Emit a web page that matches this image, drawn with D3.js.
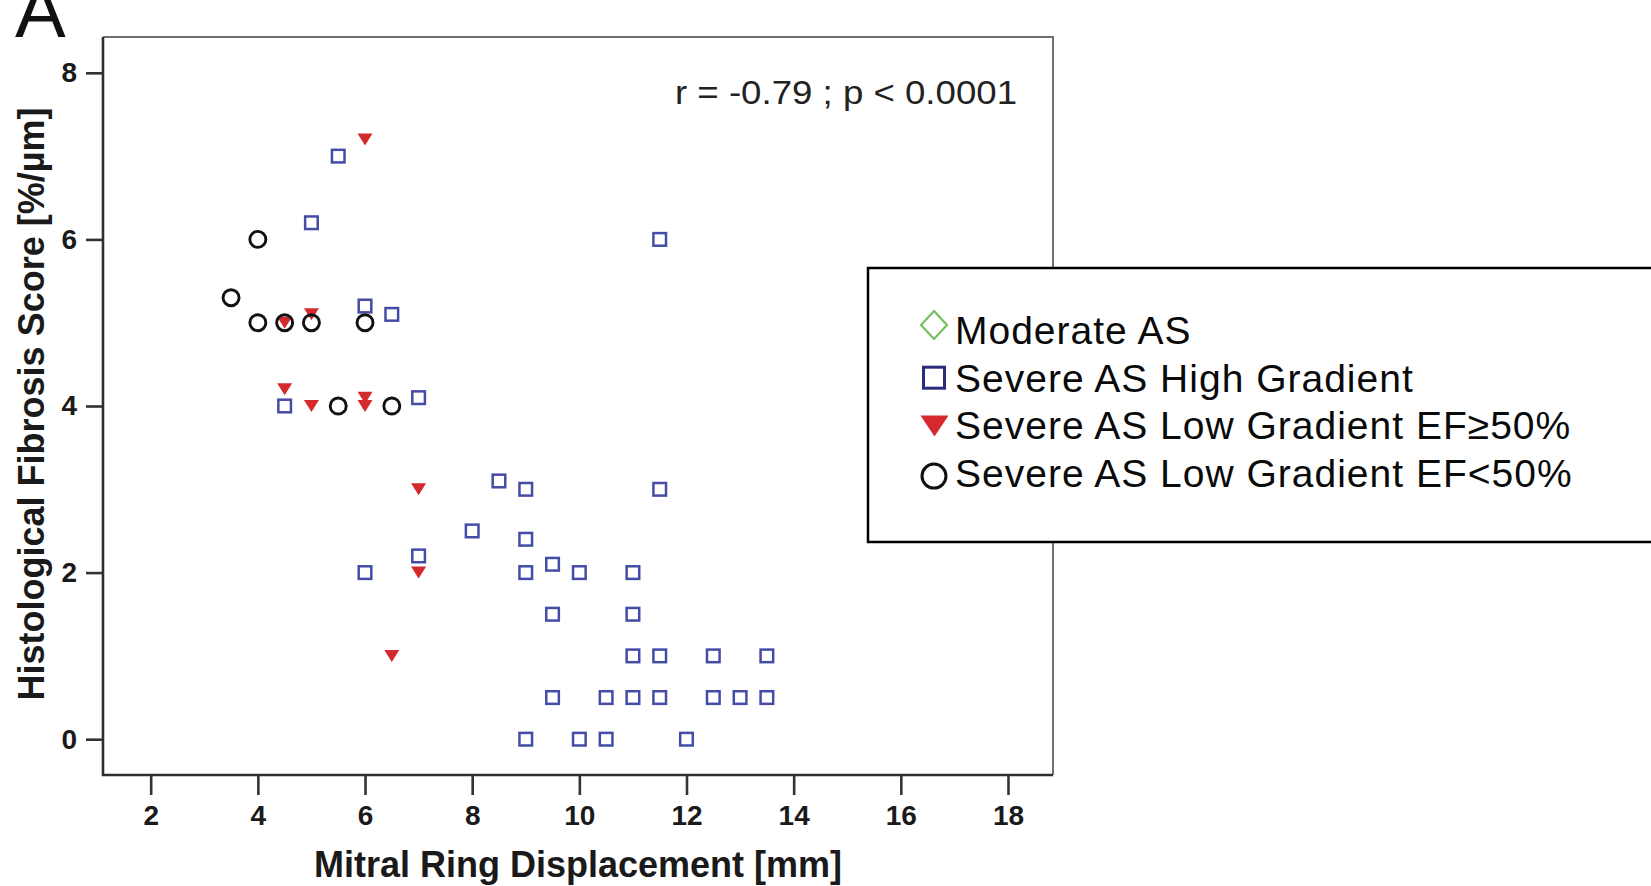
<!DOCTYPE html>
<html>
<head>
<meta charset="utf-8">
<script src="https://cdn.jsdelivr.net/npm/d3@7/dist/d3.min.js"></script>
<style>
body { margin: 0; background: #fff; }
svg { display: block; font-family: "Liberation Sans", Arial, sans-serif; }
</style>
</head>
<body>
<div id="chart"></div>
<script>
// Severe AS High Gradient (squares)
var highX = [5.5, 5, 11.5, 6, 6.5, 4.5, 7, 8.5, 9, 11.5, 8, 9, 7, 6, 9, 9.5, 10, 11, 9.5, 11,
             11, 11.5, 12.5, 13.5, 9.5, 10.5, 11, 11.5, 12.5, 13, 13.5, 9, 10, 10.5, 12];
var highY = [7, 6.2, 6, 5.2, 5.1, 4, 4.1, 3.1, 3, 3, 2.5, 2.4, 2.2, 2, 2, 2.1, 2, 2, 1.5, 1.5,
             1, 1, 1, 1, 0.5, 0.5, 0.5, 0.5, 0.5, 0.5, 0.5, 0, 0, 0, 0];
// Severe AS Low Gradient EF>=50% (red triangles)
var lowPresX = [6, 5, 4.5, 4.5, 5, 6, 6, 7, 7, 6.5];
var lowPresY = [7.2, 5.1, 5, 4.2, 4, 4.1, 4, 3, 2, 1];
// Severe AS Low Gradient EF<50% (circles)
var lowRedX = [3.5, 4, 4, 4.5, 5, 6, 5.5, 6.5];
var lowRedY = [5.3, 6, 5, 5, 5, 5, 4, 4];

var xTicks = [2, 4, 6, 8, 10, 12, 14, 16, 18];
var yTicks = [0, 2, 4, 6, 8];
var legendLabels = ["Moderate AS", "Severe AS High Gradient",
                    "Severe AS Low Gradient EF\u226550%", "Severe AS Low Gradient EF<50%"];
var statText = "r = -0.79 ; p < 0.0001";
var xTitle = "Mitral Ring Displacement [mm]";
var yTitle = "Histological Fibrosis Score [%/\u00b5m]";

function triDown(w, h){
    return "M" + (-w/2) + "," + (-h/2) + "H" + (w/2) + "L0," + (h/2) + "Z";
}
function diamond(w, h){
    return "M0," + (-h) + "L" + w + ",0L0," + h + "L" + (-w) + ",0Z";
}

function scatterChart(id){
    var margin = {top: 37, right: 598, bottom: 111, left: 103},
        width = 950,
        height = 738;

    var xScale = d3.scaleLinear()
        .range([0, width])
        .domain([1.11, 18.84]);
    var yScale = d3.scaleLinear()
        .range([height, 0])
        .domain([-0.43, 8.43]);

    var svg = d3.select("#" + id).append("svg")
        .attr("width", 1651)
        .attr("height", 886);

    // panel letter, cut at the top like the source
    svg.append("text")
        .attr("x", 15)
        .attr("y", 37)
        .attr("font-size", 76)
        .attr("fill", "#111")
        .text("A");

    var g = svg.append("g")
        .attr("transform", "translate(" + margin.left + "," + margin.top + ")");

    // frame: light top/right, dark left/bottom
    g.append("path")
        .attr("d", "M0,0H" + width + "V" + height)
        .attr("fill", "none")
        .attr("stroke", "#6f6f6f")
        .attr("stroke-width", 2);
    g.append("path")
        .attr("d", "M0,0V" + height + "H" + width)
        .attr("fill", "none")
        .attr("stroke", "#2e2e2e")
        .attr("stroke-width", 2.6);

    var xAxis = d3.axisBottom(xScale).tickValues(xTicks).tickSize(20).tickPadding(10);
    var yAxis = d3.axisLeft(yScale).tickValues(yTicks).tickSize(17).tickPadding(9);

    var gx = g.append("g")
        .attr("transform", "translate(0," + height + ")")
        .call(xAxis);
    var gy = g.append("g").call(yAxis);

    [gx, gy].forEach(function(a){
        a.select(".domain").remove();
        a.selectAll(".tick line").attr("stroke", "#333").attr("stroke-width", 2.6);
        a.selectAll(".tick text")
            .attr("fill", "#1a1a1a")
            .attr("font-size", 28)
            .attr("font-weight", "bold")
            .attr("font-family", "Liberation Sans, Arial, sans-serif");
    });

    // axis titles
    g.append("text")
        .attr("x", width/2)
        .attr("y", 840)
        .attr("text-anchor", "middle")
        .attr("font-size", 36)
        .attr("font-weight", "bold")
        .attr("fill", "#1a1a1a")
        .text(xTitle);
    g.append("text")
        .attr("transform", "translate(" + (44 - margin.left) + "," + (404 - margin.top) + ") rotate(-90)")
        .attr("text-anchor", "middle")
        .attr("font-size", 36)
        .attr("font-weight", "bold")
        .attr("fill", "#1a1a1a")
        .text(yTitle);

    // correlation note
    g.append("text")
        .attr("x", 675 - margin.left)
        .attr("y", 104 - margin.top)
        .attr("font-size", 33)
        .attr("fill", "#222")
        .attr("textLength", 342)
        .attr("lengthAdjust", "spacingAndGlyphs")
        .text(statText);

    // points
    var squares = g.selectAll("rect.high").data(highX.map(function(d,i){return {x:d, y:highY[i]};}));
    squares.enter().append("rect")
        .attr("class", "high")
        .attr("x", d=>xScale(d.x) - 6.3)
        .attr("y", d=>yScale(d.y) - 6.3)
        .attr("width", 12.6)
        .attr("height", 12.6)
        .attr("fill", "none")
        .attr("stroke", "#444ca6")
        .attr("stroke-width", 2.5);

    var tris = g.selectAll("path.lowpres").data(lowPresX.map(function(d,i){return {x:d, y:lowPresY[i]};}));
    tris.enter().append("path")
        .attr("class", "lowpres")
        .attr("transform", d=>"translate(" + xScale(d.x) + "," + yScale(d.y) + ")")
        .attr("d", triDown(15, 12))
        .attr("fill", "#d42a2e");

    var circles = g.selectAll("circle.lowred").data(lowRedX.map(function(d,i){return {x:d, y:lowRedY[i]};}));
    circles.enter().append("circle")
        .attr("class", "lowred")
        .attr("cx", d=>xScale(d.x))
        .attr("cy", d=>yScale(d.y))
        .attr("r", 8)
        .attr("fill", "none")
        .attr("stroke", "#111")
        .attr("stroke-width", 2.9);

    // legend
    var lg = svg.append("g");
    lg.append("rect")
        .attr("x", 868)
        .attr("y", 268)
        .attr("width", 800)
        .attr("height", 274)
        .attr("fill", "#fff")
        .attr("stroke", "#000")
        .attr("stroke-width", 2.5);

    var rows = lg.selectAll("g.row").data(legendLabels).enter().append("g")
        .attr("class", "row")
        .attr("transform", function(d,i){return "translate(0," + (344 + i*47.7) + ")";});
    rows.append("text")
        .attr("x", 955)
        .attr("y", 0)
        .attr("font-size", 39)
        .attr("letter-spacing", 1)
        .attr("fill", "#0a0a0a")
        .text(d=>d);

    rows.filter((d,i)=>i==0).append("path")
        .attr("transform", "translate(934,-19)")
        .attr("d", diamond(13, 14))
        .attr("fill", "none")
        .attr("stroke", "#74bf62")
        .attr("stroke-width", 2.2);
    rows.filter((d,i)=>i==1).append("rect")
        .attr("x", 934 - 10.5)
        .attr("y", -14 - 10.5)
        .attr("width", 21)
        .attr("height", 21)
        .attr("fill", "none")
        .attr("stroke", "#2c2b80")
        .attr("stroke-width", 3);
    rows.filter((d,i)=>i==2).append("path")
        .attr("transform", "translate(934.5,-13.5)")
        .attr("d", triDown(28, 21))
        .attr("fill", "#d42a2e");
    rows.filter((d,i)=>i==3).append("circle")
        .attr("cx", 934)
        .attr("cy", -11)
        .attr("r", 12)
        .attr("fill", "none")
        .attr("stroke", "#111")
        .attr("stroke-width", 3);
}

scatterChart("chart");
</script>
</body>
</html>
